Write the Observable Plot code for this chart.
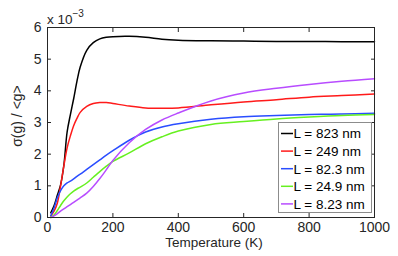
<!DOCTYPE html>
<html>
<head>
<meta charset="utf-8">
<script src="https://cdn.jsdelivr.net/npm/d3@7"></script>
<script src="https://cdn.jsdelivr.net/npm/@observablehq/plot@0.6"></script>
<style>
  html, body { margin: 0; padding: 0; background: #fff; }
  #chart svg { display: block; }
</style>
</head>
<body>
<div id="chart"></div>
<script>
// Temperature grid (K)
const temps = [10,20,30,40,50,60,70,80,90,100,120,140,160,180,200,250,300,350,400,500,600,700,800,900,1000];

// sigma(g)/<g> in units of 1e-3
const L823  = [0.15,0.37,0.70,1.03,1.65,2.70,3.25,3.75,4.30,4.75,5.28,5.52,5.64,5.69,5.71,5.72,5.69,5.63,5.60,5.58,5.57,5.56,5.56,5.55,5.55];
const L249  = [0.05,0.20,0.45,1.00,1.63,2.20,2.58,2.90,3.13,3.32,3.51,3.60,3.63,3.63,3.60,3.52,3.46,3.45,3.46,3.56,3.65,3.72,3.80,3.85,3.90];
const L82_3 = [0.05,0.30,0.62,0.85,1.00,1.09,1.15,1.22,1.30,1.37,1.52,1.67,1.82,1.97,2.11,2.44,2.70,2.86,2.96,3.10,3.18,3.22,3.25,3.27,3.29];
const L24_9 = [0.00,0.08,0.22,0.38,0.53,0.65,0.75,0.83,0.90,0.96,1.09,1.27,1.45,1.62,1.77,2.04,2.33,2.55,2.73,2.94,3.03,3.11,3.17,3.22,3.25];
const L8_23 = [0.00,0.05,0.12,0.20,0.27,0.34,0.41,0.48,0.55,0.62,0.77,0.98,1.23,1.51,1.80,2.36,2.78,3.08,3.30,3.68,3.93,4.08,4.20,4.30,4.38];

const seriesNames  = ["L = 823 nm","L = 249 nm","L = 82.3 nm","L = 24.9 nm","L = 8.23 nm"];
const seriesValues = [L823, L249, L82_3, L24_9, L8_23];
const seriesColors = ["#000000","#ff1a1a","#2a4dff","#66f020","#b84cff"];

const xTicks = [0,200,400,600,800,1000];
const yTicks = [0,1,2,3,4,5,6];

const rows = [];
seriesNames.forEach((name, i) => {
  temps.forEach((t, j) => rows.push({series: name, T: t, v: seriesValues[i][j]}));
});

const FONT = "'Liberation Sans', Arial, Helvetica, sans-serif";
const FS = 13.5;
const TFS = 14;

const chart = Plot.plot({
  width: 398,
  height: 256,
  marginLeft: 47,
  marginRight: 24,
  marginTop: 27,
  marginBottom: 39,
  style: {fontFamily: FONT, fontSize: FS + "px", color: "#262626", background: "#fff"},
  x: {domain: [0, 1000]},
  y: {domain: [0, 6]},
  color: {domain: seriesNames, range: seriesColors},
  marks: [
    Plot.line(rows, {x: "T", y: "v", z: "series", stroke: "series", strokeWidth: 1.5, curve: "catmull-rom"}),
    Plot.frame({stroke: "#262626", strokeWidth: 1}),
    // inward ticks on all four sides
    Plot.axisX({anchor: "bottom", ticks: xTicks, tickSize: -4, tickFormat: () => "", label: null, stroke: "#262626"}),
    Plot.axisX({anchor: "top", ticks: xTicks, tickSize: -4, tickFormat: () => "", label: null, stroke: "#262626"}),
    Plot.axisY({anchor: "left", ticks: yTicks, tickSize: -4, tickFormat: () => "", label: null, stroke: "#262626"}),
    Plot.axisY({anchor: "right", ticks: yTicks, tickSize: -4, tickFormat: () => "", label: null, stroke: "#262626"}),
    // tick labels
    Plot.axisX({anchor: "bottom", ticks: xTicks, tickSize: 0, tickPadding: 5, label: null, fill: "#262626", fontSize: TFS, tickFormat: d3.format("d")}),
    Plot.axisY({anchor: "left", ticks: yTicks, tickSize: 0, tickPadding: 6, label: null, fill: "#262626", fontSize: TFS, tickFormat: d3.format("d")})
  ]
});

document.getElementById("chart").appendChild(chart);

const svg = d3.select(chart);
// axis titles
svg.append("text")
  .attr("x", 214).attr("y", 247)
  .attr("text-anchor", "middle")
  .attr("font-family", FONT).attr("font-size", FS).attr("fill", "#262626")
  .text("Temperature (K)");
svg.append("text")
  .attr("transform", "translate(22,116) rotate(-90)")
  .attr("text-anchor", "middle")
  .attr("font-family", FONT).attr("font-size", 14).attr("fill", "#262626")
  .text("σ(g) / <g>");
// exponent
const ex = svg.append("text")
  .attr("x", 47).attr("y", 24)
  .attr("text-anchor", "start")
  .attr("font-family", FONT).attr("font-size", FS).attr("fill", "#262626");
ex.append("tspan").text("x 10");
ex.append("tspan").attr("dy", -7).attr("font-size", 10).text("−3");

// legend
const lg = svg.append("g");
lg.append("rect")
  .attr("x", 278.5).attr("y", 122.5).attr("width", 93).attr("height", 90)
  .attr("fill", "#fff").attr("stroke", "#8c8c8c").attr("stroke-width", 1);
seriesNames.forEach((name, i) => {
  const y = 133.5 + i * 17.6;
  lg.append("line")
    .attr("x1", 281).attr("x2", 293).attr("y1", y).attr("y2", y)
    .attr("stroke", seriesColors[i]).attr("stroke-width", 1.5);
  lg.append("text")
    .attr("x", 293.5).attr("y", y).attr("dy", "0.36em")
    .attr("text-anchor", "start")
    .attr("font-family", FONT).attr("font-size", FS).attr("fill", "#000")
    .text(name);
});
</script>
</body>
</html>
